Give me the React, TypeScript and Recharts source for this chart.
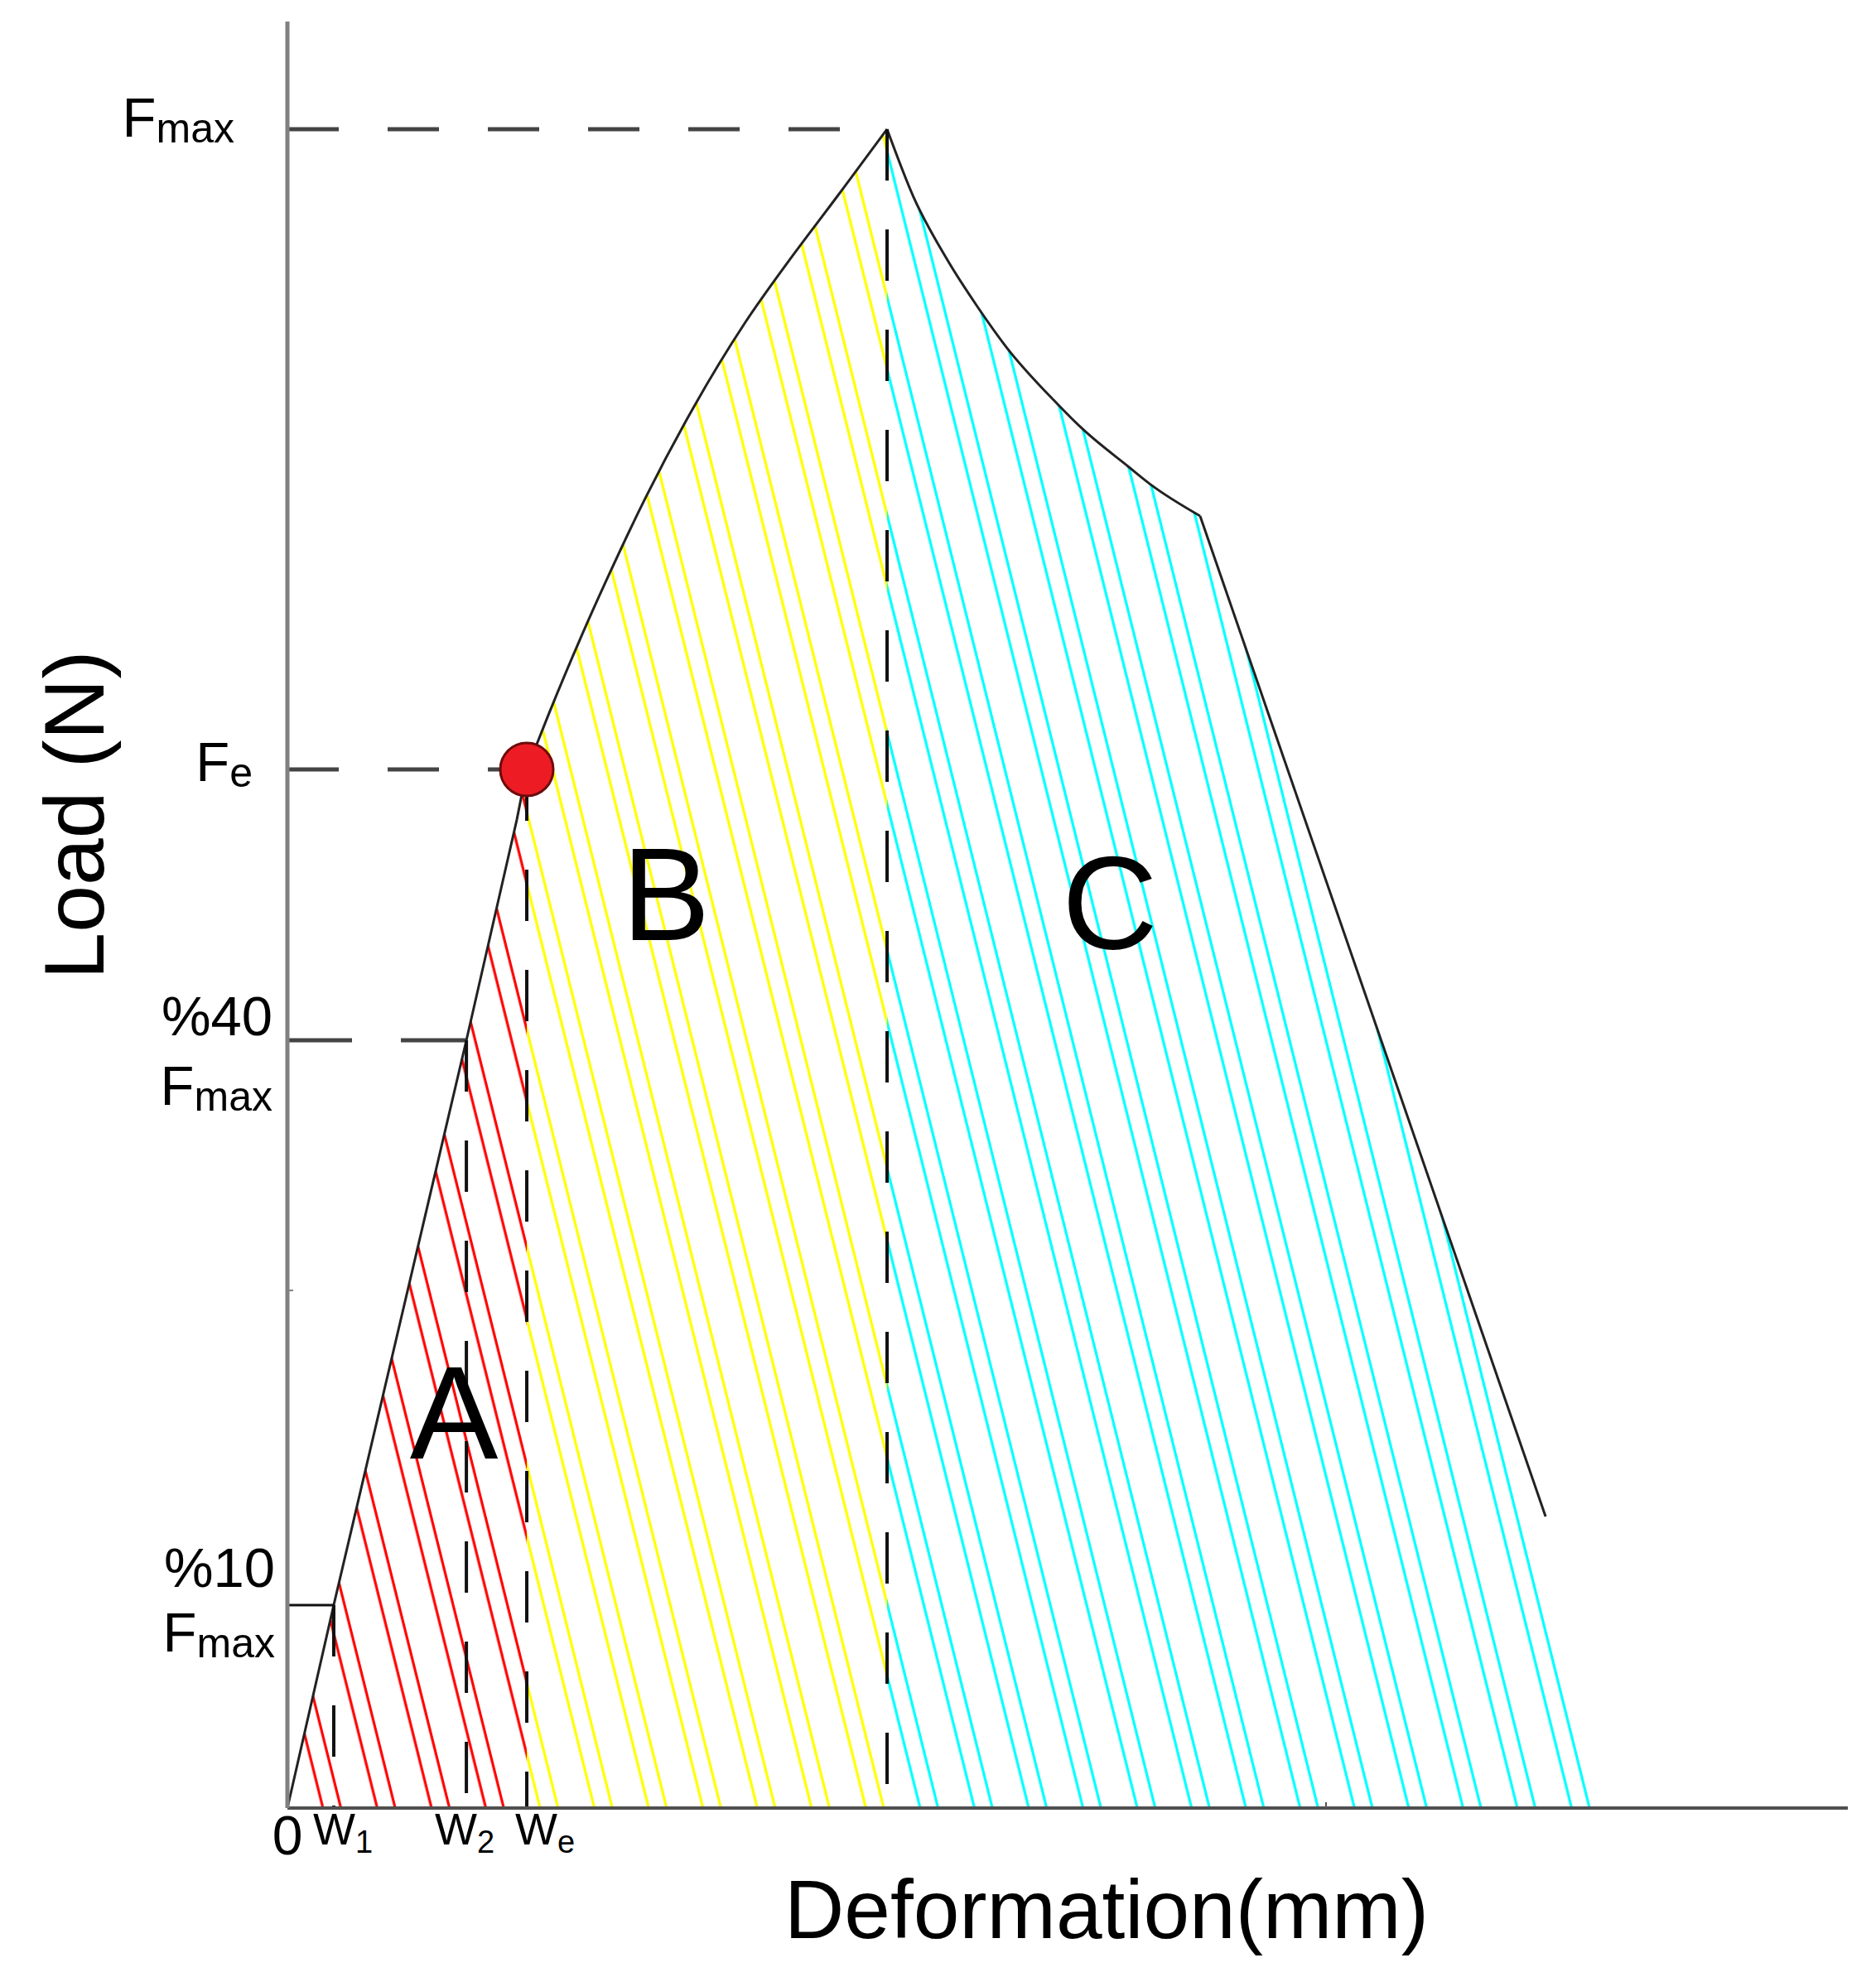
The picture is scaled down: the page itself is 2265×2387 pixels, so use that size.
import React from "react";
import {
  ComposedChart,
  Area,
  Line,
  Scatter,
  XAxis,
  YAxis,
  ReferenceLine,
  ReferenceDot,
  Label,
} from "recharts";

// Load-deformation curve (load given as % of Fmax, deformation in mm units of the sketch)
const deformation = [
  0, 0.297, 1.147, 1.47, 1.534, 1.672, 1.884, 2.038, 2.298, 2.601, 2.935, 3.201, 3.524, 3.843,
  4.013, 4.23, 4.421, 4.607, 4.936, 5.096, 5.393, 5.531, 5.849, 8.063,
];
const load = [
  0, 12.09, 45.73, 58.86, 61.86, 65.1, 69.8, 73.0, 78.1, 83.4, 88.5, 92.0, 96.0, 100,
  95.95, 92.2, 89.44, 87.02, 83.62, 82.14, 79.87, 78.84, 76.96, 17.37,
];

// Characteristic points
const W1 = 0.297;
const W2 = 1.147;
const WE = 1.534;
const PEAK_X = 3.843;
const KINK_X = 5.849;
const FMAX = 100;
const FE = 61.86;
const F40 = 45.73;
const F10 = 12.09;
const hatchFootX = 8.355; // where the last cyan hatch line meets the axis

// Axis ticks (empty label = small minor tick only)
const xTicks = [0, W1, W2, WE, 6.656];
const xTickLabels = ["0", "W1", "W2", "We", ""];
const yTicks = [F10, 30.83, F40, FE, FMAX];
const yTickLabels = ["%10 Fmax", "", "%40 Fmax", "Fe", "Fmax"];

const X_MAX = 10;
const Y_MAX = 106.41;

const FONT = "'Liberation Sans', Arial, sans-serif";

// tables for the library
const curve = deformation.map((x, i) => ({ x, y: load[i] }));
const elastic = curve.filter((p) => p.x <= WE);
const hardening = curve.filter((p) => p.x >= WE && p.x <= PEAK_X);
const softening = curve.filter((p) => p.x >= PEAK_X && p.x <= KINK_X);
const failure = curve.filter((p) => p.x >= KINK_X);
const failureHatch = [...failure, { x: hatchFootX, y: 0 }];
const fePoint = [{ x: WE, y: FE }];

// label placement (pixel offsets from tick anchor)
const yLabelStyle: Record<string, { dx: number; pre?: number; base: number }> = {
  Fmax: { dx: -64, base: 9 },
  Fe: { dx: -42, base: 14 },
  "%40 Fmax": { dx: -18, pre: -6, base: 78 },
  "%10 Fmax": { dx: -15, pre: -22, base: 56 },
};

const YTick = (props: any) => {
  const { x, y, payload } = props;
  const i = yTicks.indexOf(payload.value);
  const label = yTickLabels[i] ?? "";
  if (!label) {
    return <line x1={x} x2={x + 7} y1={y} y2={y} stroke="#808080" strokeWidth={2} />;
  }
  const st = yLabelStyle[label];
  const parts = label.split(" ");
  const main = parts[parts.length - 1];
  const pre = parts.length > 1 ? parts[0] : null;
  return (
    <g fontFamily={FONT} fill="#000">
      {pre && (
        <text x={x + st.dx} y={y + (st.pre ?? 0)} textAnchor="end" fontSize={67}>
          {pre}
        </text>
      )}
      <text x={x + st.dx} y={y + st.base} textAnchor="end">
        <tspan fontSize={67}>{main[0]}</tspan>
        <tspan fontSize={50} dy={7}>
          {main.slice(1)}
        </tspan>
      </text>
    </g>
  );
};

const xLabelDx: Record<string, number> = { W1: -25, W2: -38, We: -14 };

const XTick = (props: any) => {
  const { x, y, payload } = props;
  const i = xTicks.indexOf(payload.value);
  const label = xTickLabels[i] ?? "";
  if (!label) {
    return <line x1={x} x2={x} y1={y} y2={y - 7} stroke="#555" strokeWidth={2} />;
  }
  if (label === "0") {
    return (
      <text x={x} y={y + 56} textAnchor="middle" fontSize={66} fontFamily={FONT} fill="#000">
        0
      </text>
    );
  }
  return (
    <text x={x + xLabelDx[label]} y={y + 44} textAnchor="start" fontFamily={FONT} fill="#000">
      <tspan fontSize={54}>{label[0]}</tspan>
      <tspan fontSize={38} dy={10}>
        {label.slice(1)}
      </tspan>
    </text>
  );
};

const YTitle = (props: any) => {
  const { viewBox } = props;
  const cx = viewBox.x + 125;
  const cy = viewBox.y + 958;
  return (
    <text
      x={cx}
      y={cy}
      transform={`rotate(-90 ${cx} ${cy})`}
      textAnchor="middle"
      fontSize={102}
      fontFamily={FONT}
      fill="#000"
    >
      Load (N)
    </text>
  );
};

const XTitle = (props: any) => {
  const { viewBox } = props;
  return (
    <text
      x={viewBox.x + 989}
      y={viewBox.y + 157}
      textAnchor="middle"
      fontSize={100}
      fontFamily={FONT}
      fill="#000"
    >
      Deformation(mm)
    </text>
  );
};

// region letters
const regionLetters = [
  { name: "A", x: 1.067, y: 23.6 },
  { name: "B", x: 2.426, y: 54.5 },
  { name: "C", x: 5.271, y: 54.0 },
];

// paired diagonal hatch lines
const Hatch = ({ id, color }: { id: string; color: string }) => (
  <pattern
    id={id}
    patternUnits="userSpaceOnUse"
    width={63.6}
    height={63.6}
    patternTransform="rotate(-14)"
  >
    <line x1={41} y1={-5} x2={41} y2={70} stroke={color} strokeWidth={3.2} />
    <line x1={62} y1={-5} x2={62} y2={70} stroke={color} strokeWidth={3.2} />
  </pattern>
);

const FeDot = (props: any) => (
  <circle cx={props.cx} cy={props.cy} r={32} fill="#ed1c24" stroke="#6e0b0b" strokeWidth={3} />
);

const DASH = "62 59";
const CURVE = { stroke: "#222", strokeWidth: 3, dot: false, isAnimationActive: false };

export default function App() {
  return (
    <div style={{ position: "absolute", left: 0, top: 0, background: "#fff" }}>
      <ComposedChart width={2265} height={2387} margin={{ top: 26, right: 34, left: 0, bottom: 0 }}>
        <defs>
          <Hatch id="hatchA" color="#ff0000" />
          <Hatch id="hatchB" color="#ffff00" />
          <Hatch id="hatchC" color="#00ffff" />
        </defs>
        <XAxis
          type="number"
          dataKey="x"
          domain={[0, X_MAX]}
          ticks={xTicks}
          interval={0}
          height={204}
          tickSize={0}
          tickMargin={0}
          tick={<XTick />}
          axisLine={{ stroke: "#505050", strokeWidth: 4 }}
          allowDataOverflow
        >
          <Label content={<XTitle />} />
        </XAxis>
        <YAxis
          type="number"
          dataKey="y"
          domain={[0, Y_MAX]}
          ticks={yTicks}
          interval={0}
          width={347}
          tickSize={0}
          tickMargin={0}
          tick={<YTick />}
          axisLine={{ stroke: "#808080", strokeWidth: 5 }}
          allowDataOverflow
        >
          <Label content={<YTitle />} />
        </YAxis>

        {/* Fe marker sits under the hatching and the guide lines */}
        <Scatter data={fePoint} dataKey="y" shape={<FeDot />} isAnimationActive={false} />

        {/* hatched regions A, B, C */}
        <Area data={elastic} dataKey="y" type="linear" stroke="none" fill="url(#hatchA)" fillOpacity={1} isAnimationActive={false} />
        <Area data={hardening} dataKey="y" type="monotoneX" stroke="none" fill="url(#hatchB)" fillOpacity={1} isAnimationActive={false} />
        <Area data={softening} dataKey="y" type="monotoneX" stroke="none" fill="url(#hatchC)" fillOpacity={1} isAnimationActive={false} />
        <Area data={failureHatch} dataKey="y" type="linear" stroke="none" fill="url(#hatchC)" fillOpacity={1} isAnimationActive={false} />

        {/* the load-deformation curve */}
        <Line data={elastic} dataKey="y" type="linear" {...CURVE} />
        <Line data={hardening} dataKey="y" type="monotoneX" {...CURVE} />
        <Line data={softening} dataKey="y" type="monotoneX" {...CURVE} />
        <Line data={failure} dataKey="y" type="linear" {...CURVE} />

        <ReferenceLine segment={[{ x: 0, y: FMAX }, { x: PEAK_X, y: FMAX }]} stroke="#444" strokeWidth={5} strokeDasharray={DASH} />
        <ReferenceLine segment={[{ x: PEAK_X, y: FMAX }, { x: PEAK_X, y: 0 }]} stroke="#111" strokeWidth={4} strokeDasharray={DASH} />
        <ReferenceLine segment={[{ x: 0, y: FE }, { x: WE, y: FE }]} stroke="#444" strokeWidth={5} strokeDasharray={DASH} />
        <ReferenceLine segment={[{ x: WE, y: FE }, { x: WE, y: 0 }]} stroke="#111" strokeWidth={4} strokeDasharray={DASH} />
        <ReferenceLine segment={[{ x: 0, y: F40 }, { x: W2, y: F40 }]} stroke="#444" strokeWidth={5} strokeDasharray="78 59" />
        <ReferenceLine segment={[{ x: W2, y: F40 }, { x: W2, y: 0 }]} stroke="#111" strokeWidth={4} strokeDasharray={DASH} />
        <ReferenceLine segment={[{ x: 0, y: F10 }, { x: W1, y: F10 }]} stroke="#111" strokeWidth={3} />
        <ReferenceLine segment={[{ x: W1, y: F10 }, { x: W1, y: 0 }]} stroke="#111" strokeWidth={4} strokeDasharray={DASH} />

        {regionLetters.map((r) => (
          <ReferenceDot
            key={r.name}
            x={r.x}
            y={r.y}
            r={0}
            fill="none"
            stroke="none"
            label={{
              value: r.name,
              position: "center",
              fontSize: 160,
              fontFamily: FONT,
              fill: "#000",
            }}
          />
        ))}
      </ComposedChart>
    </div>
  );
}
